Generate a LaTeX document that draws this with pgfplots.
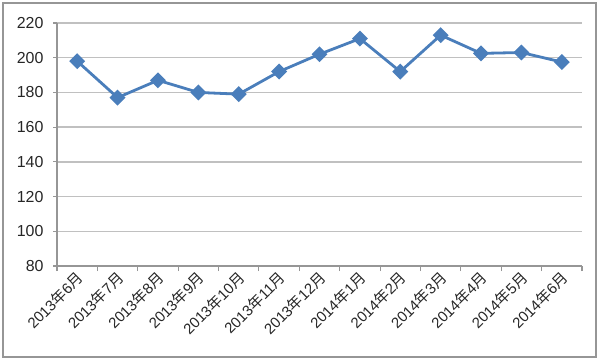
\documentclass[border=0pt]{standalone}
\usepackage{fontspec}
\setmainfont{Liberation Sans}
\newfontfamily\cjk{Noto Sans CJK SC}
\usepackage{pgfplots}
\pgfplotsset{compat=1.18}
\definecolor{serie}{RGB}{74,126,187}
\definecolor{gridc}{RGB}{192,192,192}
\definecolor{axisc}{RGB}{150,150,150}
\newcommand{\lab}[2]{#1{\cjk 年}#2{\cjk 月}}
\begin{document}
\begin{tikzpicture}[x=1bp,y=1bp]
\path[use as bounding box] (0,0) rectangle (600,363);
\draw[axisc, line width=1.2bp] (3,6) rectangle (596,360);
\begin{axis}[
  at={(57bp,97bp)}, anchor=south west,
  scale only axis, width=525bp, height=243bp,
  xmin=-0.5, xmax=12.5, ymin=80, ymax=220,
  ytick={80,100,...,220},
  xtick={0,...,12},
  xticklabels={\lab{2013}{6},\lab{2013}{7},\lab{2013}{8},\lab{2013}{9},\lab{2013}{10},\lab{2013}{11},\lab{2013}{12},\lab{2014}{1},\lab{2014}{2},\lab{2014}{3},\lab{2014}{4},\lab{2014}{5},\lab{2014}{6}},
  minor xtick={-0.5,0.5,...,12.5},
  axis x line*=bottom, axis y line*=left,
  axis line style={axisc, line width=1.2bp},
  ymajorgrids, grid style={gridc, line width=1.3bp},
  tick align=outside,
  major tick length=4bp, minor tick length=5bp,
  major x tick style={draw=none},
  tick style={axisc, line width=1.1bp},
  minor x tick style={axisc, line width=1.1bp},
  /pgf/number format/assume math mode=true,
  tick label style={text=black!85},
  yticklabel style={font=\fontsize{16}{18}\selectfont, xshift=-6bp},
  xticklabel style={font=\fontsize{15}{17}\selectfont, rotate=45, anchor=east, xshift=2bp, yshift=-6bp},
]
\addplot[serie, line width=2.8bp, mark=diamond*, mark size=6bp,
  mark options={xscale=1.333, solid, fill=serie}]
  coordinates {(0,198) (1,177) (2,187) (3,180) (4,179) (5,192) (6,202)
    (7,211) (8,192) (9,213) (10,202.5) (11,203) (12,197.5)};
\end{axis}
\end{tikzpicture}
\end{document}
